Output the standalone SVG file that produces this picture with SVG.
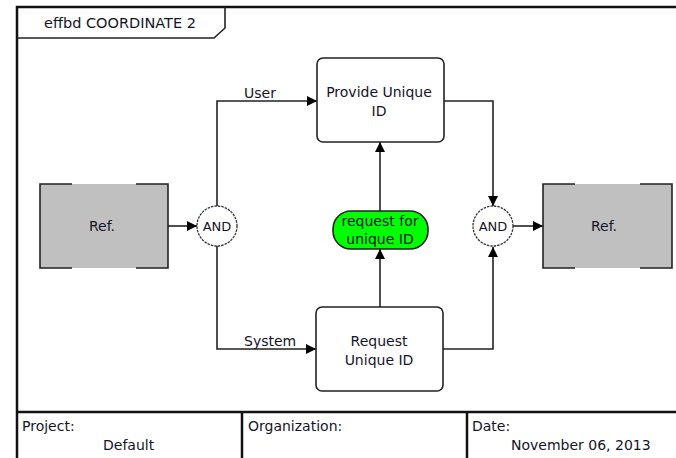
<svg xmlns="http://www.w3.org/2000/svg" width="676" height="458" viewBox="0 0 676 458">
  <defs>
    <marker id="arrow" viewBox="0 0 10 10" refX="10" refY="5" markerWidth="10" markerHeight="10" markerUnits="userSpaceOnUse" orient="auto">
      <path d="M0,0 L10,5 L0,10 z" fill="#000"/>
    </marker>
  </defs>
  <style>
    text { font-family: "DejaVu Sans", "Liberation Sans", sans-serif; font-size: 14px; fill: #141428; }
    .mid { text-anchor: middle; }
    .frame { fill: none; stroke: #111; stroke-width: 2.5; }
    .line { fill: none; stroke: #222; stroke-width: 1.6; }
    .func { fill: #fff; stroke: #222; stroke-width: 1.6; }
    .ref { fill: #c0c0c0; stroke: none; }
    .bracket { fill: none; stroke: #222; stroke-width: 1.6; }
    .and { fill: #fff; stroke: #333; stroke-width: 1.3; stroke-dasharray: 2.5 1; }
    .item { fill: #00ff00; stroke: #222; stroke-width: 1.6; }
    .conn { fill: none; stroke: #222; stroke-width: 1.6; marker-end: url(#arrow); }
  </style>

  <rect width="676" height="458" fill="#fff"/>

  <!-- outer frame and title tab -->
  <g id="frame">
    <path class="frame" d="M17,470 V7 H690"/>
    <path class="line" d="M17,38 H214 L225,28 V7"/>
    <text x="120" y="28" class="mid" style="font-size:14.5px">effbd COORDINATE 2</text>
  </g>

  <!-- footer block -->
  <g id="footer">
    <path class="frame" d="M17,412 H690 M242,412 V470 M467,412 V470"/>
    <text x="22" y="431">Project:</text>
    <text x="103" y="450">Default</text>
    <text x="248" y="431">Organization:</text>
    <text x="472" y="431">Date:</text>
    <text x="511" y="450">November 06, 2013</text>
  </g>

  <!-- connectors -->
  <g id="connectors">
    <path class="conn" d="M168,226 H197"/>
    <path class="conn" d="M217,206 V101 H317"/>
    <path class="conn" d="M217,246 V349 H316"/>
    <path class="conn" d="M444,101 H493 V206"/>
    <path class="conn" d="M443,349 H493 V247"/>
    <path class="conn" d="M513,226 H543"/>
    <path class="conn" d="M380,211 V142"/>
    <path class="conn" d="M380,307 V249"/>
    <text x="244" y="98">User</text>
    <text x="244" y="346">System</text>
  </g>

  <g id="ref-left">
    <rect class="ref" x="40" y="184" width="128" height="84"/>
    <path class="bracket" d="M72,184 H40 V268 H72 M136,184 H168 V268 H136"/>
    <text x="102" y="231" class="mid">Ref.</text>
  </g>

  <g id="and-left">
    <circle class="and" cx="217" cy="226" r="20"/>
    <text x="217" y="231" class="mid" style="font-size:13px">AND</text>
  </g>

  <g id="provide-unique-id">
    <rect class="func" x="317" y="58" width="127" height="84" rx="6"/>
    <text x="379" y="97" class="mid">Provide Unique</text>
    <text x="379" y="116" class="mid">ID</text>
  </g>

  <g id="request-for-unique-id">
    <rect class="item" x="333" y="211" width="95" height="38" rx="18"/>
    <text x="380" y="226" class="mid">request for</text>
    <text x="380" y="244" class="mid">unique ID</text>
  </g>

  <g id="request-unique-id">
    <rect class="func" x="316" y="307" width="127" height="84" rx="6"/>
    <text x="379" y="346" class="mid">Request</text>
    <text x="379" y="365" class="mid">Unique ID</text>
  </g>

  <g id="and-right">
    <circle class="and" cx="493" cy="226" r="20"/>
    <text x="493" y="231" class="mid" style="font-size:13px">AND</text>
  </g>

  <g id="ref-right">
    <rect class="ref" x="543" y="184" width="129" height="84"/>
    <path class="bracket" d="M575,184 H543 V268 H575 M640,184 H672 V268 H640"/>
    <text x="604" y="231" class="mid">Ref.</text>
  </g>
</svg>
